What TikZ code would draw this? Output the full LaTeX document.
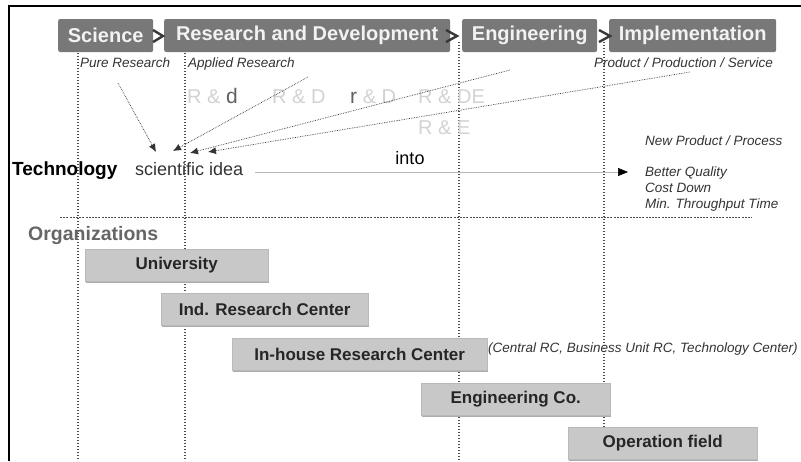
\documentclass[tikz,border=0pt]{standalone}
\usepackage{fontspec}
\setmainfont{Liberation Sans}
\usetikzlibrary{arrows.meta,shadows}
\definecolor{phasegray}{HTML}{787878}
\definecolor{orggray}{HTML}{C8C8C8}
\definecolor{ghostgray}{HTML}{D2D2D2}
\definecolor{darkghost}{HTML}{606060}
\definecolor{inkgray}{HTML}{333333}
\newcommand{\pxfont}[1]{\fontsize{#1}{#1}\selectfont}
\tikzset{
  phase/.style   = {shape=rectangle, rounded corners=2pt, fill=phasegray,
                    text=gray!10, font=\pxfont{20}\bfseries,
                    minimum height=33pt, inner sep=0pt, anchor=west},
  orgbox/.style  = {shape=rectangle, fill=orggray, draw=gray!55, line width=0.4pt,
                    text=black!85, font=\pxfont{17}\bfseries,
                    minimum height=32pt, inner sep=0pt, anchor=north west,
                    drop shadow={shadow xshift=1.2pt, shadow yshift=-1.5pt,
                                 fill=gray!65, opacity=1}},
  note/.style    = {font=\pxfont{13.5}\itshape, text=inkgray, inner sep=0pt, anchor=base west},
  ghost/.style   = {font=\pxfont{20}, text=ghostgray, inner sep=0pt, anchor=base west},
  guide/.style   = {gray!60!black, line width=1.3pt, dash pattern=on 1.3pt off 1.7pt},
  feed/.style    = {-{Latex[length=8pt,width=7pt]}, black!80, line width=0.7pt, densely dotted},
  chevron/.style = {gray!45!black, line width=2.4pt},
}
\begin{document}
\begin{tikzpicture}[x=1pt,y=-1pt]
  \useasboundingbox (0,0) rectangle (801,461);
  \draw[line width=2.5pt] (9,461) -- (9,6) -- (801,6);

  \draw[guide] (78,53)  -- (78,461);
  \draw[guide] (185,53) -- (185,461);
  \draw[guide] (459,42) -- (459,461);
  \draw[guide] (604,42) -- (604,427);

  \node[phase, minimum width=95pt]  (science) at (58,35.5)  {Science};
  \node[phase, minimum width=286pt] (rnd)     at (164,35.5) {Research and Development};
  \node[phase, minimum width=135pt] (eng)     at (462,35.5) {Engineering};
  \node[phase, minimum width=167pt] (impl)    at (609,35.5) {Implementation};
  \draw[chevron] (153,30) -- (163,36) -- (153,42);
  \draw[chevron] (446,30) -- (457,36) -- (446,42);
  \draw[chevron] (599,30) -- (610,36) -- (599,42);

  \node[note] (pure)    at (80,67)  {Pure Research};
  \node[note] (applied) at (188,67) {Applied Research};
  \node[note, anchor=base east] (product) at (773,67) {Product / Production / Service};

  \node[ghost] (rd1) at (187,103) {R \& {\color{darkghost}\pxfont{21}d}};
  \node[ghost] (rd2) at (272,103) {R \& D};
  \node[ghost] (rd3) at (350,103) {{\color{darkghost}\pxfont{21}r} \& D};
  \node[ghost] (rd4) at (418,103) {R \& DE};
  \node[ghost] (rd5) at (418,134) {R \& E};

  \node[font=\pxfont{19}\bfseries, anchor=base west, inner sep=0pt] (tech) at (12,175) {Technology};
  \node[font=\pxfont{18}, text=inkgray, anchor=base west, inner sep=0pt] (idea) at (135,175) {scientific idea};
  \node[font=\pxfont{18}, anchor=base, inner sep=0pt] (into) at (410,164) {into};

  \coordinate (f1) at (118,83);
  \coordinate (f2) at (308,77);
  \coordinate (f3) at (510,70);
  \coordinate (f4) at (690,72);
  \coordinate (t1) at (156,152);
  \coordinate (t2) at (173,151);
  \coordinate (t3) at (190,153);
  \coordinate (t4) at (208,152);
  \draw[feed] (f1) -- (t1);
  \draw[feed] (f2) -- (t2);
  \draw[feed] (f3) -- (t3);
  \draw[feed] (f4) -- (t4);

  \coordinate (goal) at (628,172);
  \draw[gray!55, line width=0.6pt, -{Triangle[length=10pt,width=8pt,black]}]
    ([xshift=12pt,yshift=3pt]idea.base east) -- (goal);

  \node[note] (newprod) at (645,145) {New Product / Process};
  \node[note] (quality) at (645,176) {Better Quality};
  \node[note] (cost)    at (645,192) {Cost Down};
  \node[note] (time)    at (645,208) {Min. Throughput Time};

  \draw[gray!60!black, line width=0.7pt, dash pattern=on 2pt off 1.2pt] (60,217) -- (752,217);

  \node[font=\pxfont{19.5}\bfseries, text=black!60, anchor=base west, inner sep=0pt] (orgs) at (28,240) {Organizations};

  \node[orgbox, minimum width=183pt] (univ)    at (85,249)  {University};
  \node[orgbox, minimum width=207pt] (indrc)   at (161,293) {Ind. Research Center};
  \node[orgbox, minimum width=255pt] (inhouse) at (232,338) {In-house Research Center};
  \node[orgbox, minimum width=189pt] (engco)   at (421,383) {Engineering Co.};
  \node[orgbox, minimum width=189pt] (opfield) at (568,427) {Operation field};
  \node[note] (rcnote) at (488,352) {(Central RC, Business Unit RC, Technology Center)};
\end{tikzpicture}
\end{document}
